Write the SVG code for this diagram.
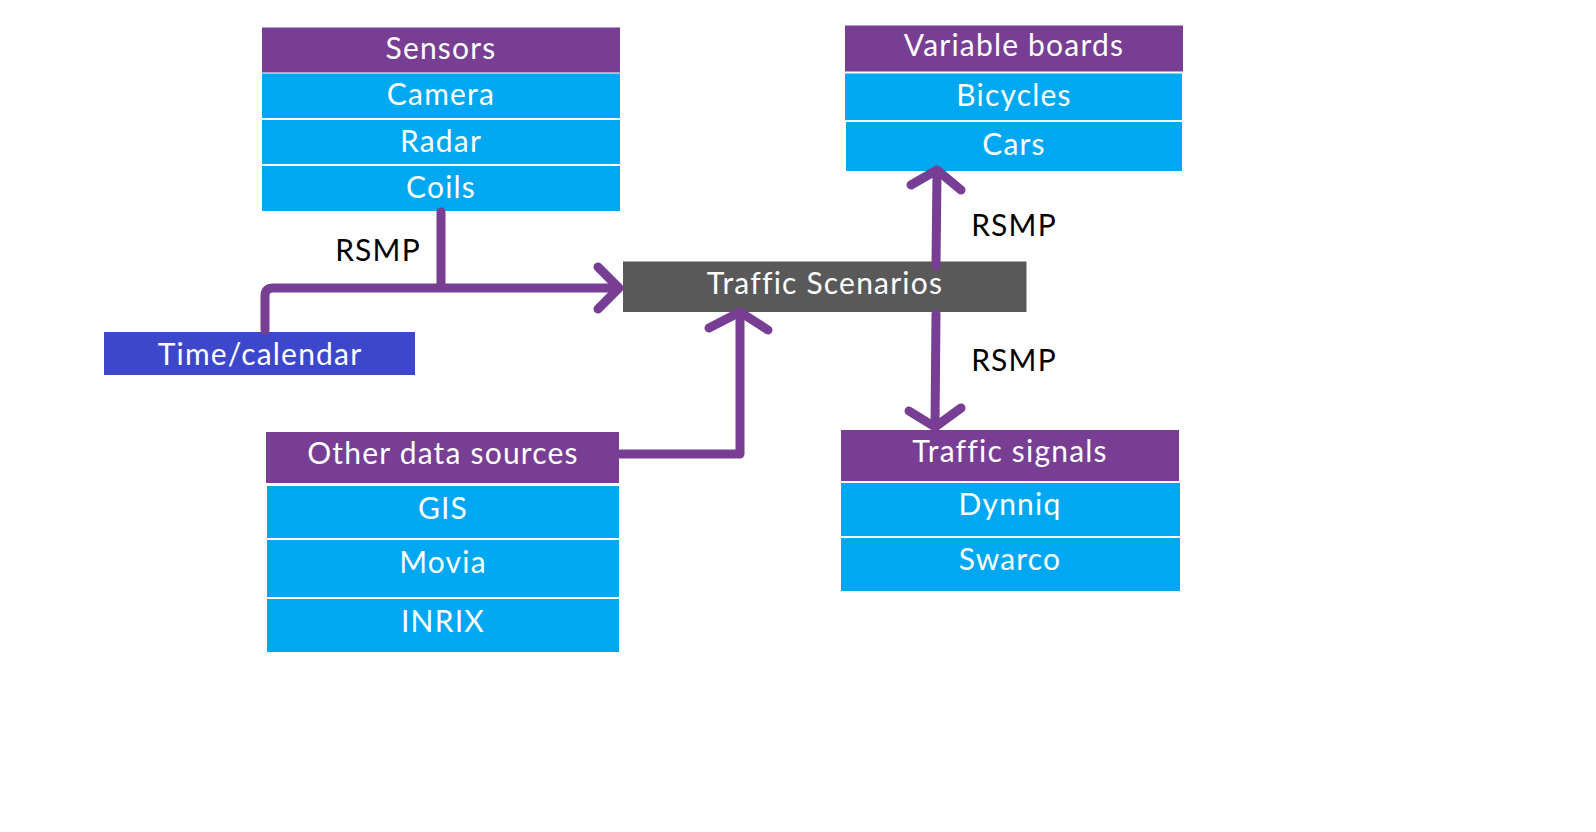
<svg xmlns="http://www.w3.org/2000/svg" width="1596" height="832" viewBox="0 0 1596 832">
<style>
.hd{fill:#773E93}
.it{fill:#00A8F2}
.tc{fill:#3D47CC}
.ts{fill:#595959}
.t{font-family:Lato,"Noto Sans",sans-serif;font-size:30px;letter-spacing:1.2px;fill:#fff;text-anchor:middle}
.lb{font-family:Lato,"Noto Sans",sans-serif;font-size:30px;letter-spacing:1.2px;fill:#000;text-anchor:middle}
.c{fill:none;stroke:#773E93;stroke-width:9;stroke-linecap:round;stroke-linejoin:round}
</style>
<rect width="1596" height="832" fill="#fff"/>
<g id="sensors">
<rect class="hd" x="262" y="27.5" width="358" height="45"/>
<text class="t" x="441" y="59">Sensors</text>
<rect class="it" x="262" y="73.5" width="358" height="44.5"/>
<text class="t" x="441" y="105">Camera</text>
<rect class="it" x="262" y="120" width="358" height="44"/>
<text class="t" x="441" y="151.5">Radar</text>
<rect class="it" x="262" y="166" width="358" height="45"/>
<text class="t" x="441" y="197.5">Coils</text>
</g>
<g id="time-calendar">
<rect class="tc" x="104" y="332" width="311" height="43"/>
<text class="t" x="260" y="365">Time/calendar</text>
</g>
<g id="traffic-scenarios">
<rect class="ts" x="623" y="261.5" width="403.5" height="50.5"/>
<text class="t" x="825" y="293.5">Traffic Scenarios</text>
</g>
<g id="variable-boards">
<rect class="hd" x="845" y="25.5" width="338" height="46"/>
<text class="t" x="1014" y="56">Variable boards</text>
<rect class="it" x="845" y="73.5" width="337" height="46.5"/>
<text class="t" x="1014" y="106">Bicycles</text>
<rect class="it" x="846" y="122" width="336" height="49"/>
<text class="t" x="1014" y="155">Cars</text>
</g>
<g id="other-data-sources">
<rect class="hd" x="266" y="432" width="353" height="51"/>
<text class="t" x="443" y="464">Other data sources</text>
<rect class="it" x="267" y="486" width="352" height="52"/>
<text class="t" x="443" y="518.5">GIS</text>
<rect class="it" x="267" y="540" width="352" height="57"/>
<text class="t" x="443" y="572.5">Movia</text>
<rect class="it" x="267" y="599" width="352" height="53"/>
<text class="t" x="443" y="632">INRIX</text>
</g>
<g id="traffic-signals">
<rect class="hd" x="841" y="430" width="338" height="51"/>
<text class="t" x="1010" y="462">Traffic signals</text>
<rect class="it" x="841" y="483" width="339" height="53"/>
<text class="t" x="1010" y="515">Dynniq</text>
<rect class="it" x="841" y="538" width="339" height="53"/>
<text class="t" x="1010" y="569.5">Swarco</text>
</g>
<g id="connectors">
<path class="c" d="M441 212 V286"/>
<path class="c" d="M265 330 V296 Q265 288 273 288 H617"/>
<path class="c" d="M598 267 L619 288 L598 309"/>
<path class="c" d="M936 266 L937 172"/>
<path class="c" d="M911 185 L937 170 L961 190"/>
<path class="c" d="M936 314 L935 426"/>
<path class="c" d="M909 411 L935 427 L961 408"/>
<path class="c" d="M620 454 H740 V314"/>
<path class="c" d="M709 328 L740 312 L768 330"/>
<text class="lb" x="378" y="261">RSMP</text>
<text class="lb" x="1014" y="236">RSMP</text>
<text class="lb" x="1014" y="370.5">RSMP</text>
</g>
</svg>
